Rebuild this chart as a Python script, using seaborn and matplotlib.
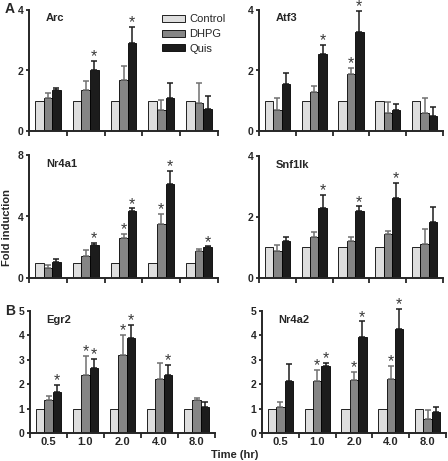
import numpy as np
import pandas as pd
import matplotlib
matplotlib.use('Agg')
import matplotlib.pyplot as plt
import seaborn as sns

# =========================================================================
# DATI
# =========================================================================
times = ['0.5', '1.0', '2.0', '4.0', '8.0']
treatments = ['Control', 'DHPG', 'Quis']
colors = ['#dedede', '#858585', '#1c1c1c']
err_colors = ['#555555', '#707070', '#1c1c1c']

control = [1.0, 1.0, 1.0, 1.0, 1.0]

arc_dhpg = [1.09, 1.36, 1.67, 0.68, 0.92]
arc_dhpg_err = [0.16, 0.29, 0.47, 0.33, 0.66]
arc_quis = [1.34, 2.01, 2.91, 1.10, 0.74]
arc_quis_err = [0.07, 0.31, 0.54, 0.50, 0.42]
arc_star_dhpg = [0, 0, 0, 0, 0]
arc_star_quis = [0, 1, 1, 0, 0]

atf3_dhpg = [0.71, 1.30, 1.87, 0.60, 0.60]
atf3_dhpg_err = [0.38, 0.18, 0.22, 0.36, 0.48]
atf3_quis = [1.54, 2.55, 3.28, 0.71, 0.49]
atf3_quis_err = [0.37, 0.30, 0.69, 0.19, 0.31]
atf3_star_dhpg = [0, 0, 1, 0, 0]
atf3_star_quis = [0, 1, 1, 0, 0]

nr4a1_dhpg = [0.63, 1.46, 2.63, 3.50, 1.74]
nr4a1_dhpg_err = [0.22, 0.34, 0.24, 0.67, 0.17]
nr4a1_quis = [1.04, 2.15, 4.39, 6.09, 2.02]
nr4a1_quis_err = [0.22, 0.15, 0.15, 0.87, 0.05]
nr4a1_star_dhpg = [0, 0, 1, 1, 0]
nr4a1_star_quis = [0, 1, 1, 1, 1]

snf1lk_dhpg = [0.89, 1.34, 1.21, 1.45, 1.12]
snf1lk_dhpg_err = [0.20, 0.18, 0.13, 0.08, 0.48]
snf1lk_quis = [1.21, 2.28, 2.21, 2.62, 1.85]
snf1lk_quis_err = [0.13, 0.44, 0.14, 0.51, 0.47]
snf1lk_star_dhpg = [0, 0, 0, 0, 0]
snf1lk_star_quis = [0, 1, 1, 1, 0]

egr2_dhpg = [1.37, 2.39, 3.20, 2.23, 1.35]
egr2_dhpg_err = [0.15, 0.78, 0.83, 0.64, 0.07]
egr2_quis = [1.69, 2.66, 3.88, 2.36, 1.08]
egr2_quis_err = [0.29, 0.39, 0.55, 0.44, 0.18]
egr2_star_dhpg = [0, 1, 1, 0, 0]
egr2_star_quis = [1, 1, 1, 1, 0]

nr4a2_dhpg = [1.08, 2.13, 2.17, 2.20, 0.59]
nr4a2_dhpg_err = [0.20, 0.47, 0.34, 0.56, 0.37]
nr4a2_quis = [2.13, 2.76, 3.95, 4.28, 0.86]
nr4a2_quis_err = [0.71, 0.11, 0.63, 0.80, 0.19]
nr4a2_star_dhpg = [0, 1, 1, 1, 0]
nr4a2_star_quis = [0, 1, 1, 1, 0]

pannelli = [
    ('Arc', arc_dhpg, arc_dhpg_err, arc_quis, arc_quis_err, arc_star_dhpg, arc_star_quis, [0, 2, 4]),
    ('Atf3', atf3_dhpg, atf3_dhpg_err, atf3_quis, atf3_quis_err, atf3_star_dhpg, atf3_star_quis, [0, 2, 4]),
    ('Nr4a1', nr4a1_dhpg, nr4a1_dhpg_err, nr4a1_quis, nr4a1_quis_err, nr4a1_star_dhpg, nr4a1_star_quis, [0, 4, 8]),
    ('Snf1lk', snf1lk_dhpg, snf1lk_dhpg_err, snf1lk_quis, snf1lk_quis_err, snf1lk_star_dhpg, snf1lk_star_quis, [0, 2, 4]),
    ('Egr2', egr2_dhpg, egr2_dhpg_err, egr2_quis, egr2_quis_err, egr2_star_dhpg, egr2_star_quis, [0, 1, 2, 3, 4, 5]),
    ('Nr4a2', nr4a2_dhpg, nr4a2_dhpg_err, nr4a2_quis, nr4a2_quis_err, nr4a2_star_dhpg, nr4a2_star_quis, [0, 1, 2, 3, 4, 5]),
]

# posizioni degli assi in pixel: (sinistra, destra, alto, basso)
posizioni = [
    (29, 218, 10, 131), (259, 443, 10, 131),
    (29, 218, 155, 278), (259, 443, 156, 278),
    (30, 215, 311, 433), (262, 446, 311, 433),
]

sns.set_style('ticks')
plt.rcParams['font.family'] = ['Liberation Sans', 'DejaVu Sans']

W, H = 448, 461
fig = plt.figure(figsize=(W / 100, H / 100), dpi=100)

for i, (nome, dhpg, dhpg_err, quis, quis_err, st_d, st_q, yticks) in enumerate(pannelli):
    l, r, t, b = posizioni[i]
    ax = fig.add_axes([l / W, 1 - b / H, (r - l) / W, (b - t) / H])

    df = pd.DataFrame({
        'time': times * 3,
        'treatment': ['Control'] * 5 + ['DHPG'] * 5 + ['Quis'] * 5,
        'value': control + dhpg + quis,
    })
    sns.barplot(data=df, x='time', y='value', hue='treatment', order=times,
                hue_order=treatments, palette=colors, edgecolor='black',
                linewidth=0.6, width=0.68, errorbar=None, ax=ax, legend=(i == 0))

    errori = [None, dhpg_err, quis_err]
    stelle = [None, st_d, st_q]
    barre = list(ax.containers)[:3]
    for k, cont in enumerate(barre):
        if errori[k] is None:
            continue
        for j, bar in enumerate(cont):
            x = bar.get_x() + bar.get_width() / 2
            h = bar.get_height()
            e = errori[k][j]
            ax.errorbar(x, h, yerr=[[0], [e]], fmt='none', ecolor=err_colors[k],
                        elinewidth=1.1, capsize=2.2, capthick=1.1, clip_on=False, zorder=1)
            if stelle[k][j]:
                ax.annotate('*', (x, h + e), xytext=(0, -2.5), textcoords='offset points',
                            ha='center', va='bottom', fontsize=11.5, color='#3a3a3a',
                            annotation_clip=False)

    ax.set_ylim(0, yticks[-1])
    ax.set_yticks(yticks)
    ax.set_yticklabels([str(v) for v in yticks], fontweight='bold', fontsize=7.5)
    ax.set_xlim(-0.5, 4.5)
    ax.set_xticks(np.arange(-0.5, 5, 1), minor=True)
    ax.set_xticks(range(5))
    if i >= 4:
        ax.set_xticklabels(times, fontweight='bold', fontsize=8)
    else:
        ax.set_xticklabels([])
    ax.tick_params(axis='x', which='major', length=0, pad=3)
    ax.tick_params(axis='x', which='minor', length=3.5, width=1.3, direction='out')
    ax.tick_params(axis='y', length=2.5, width=1.3, pad=1.5)
    ax.set_xlabel('')
    ax.set_ylabel('')
    sns.despine(ax=ax)
    for s in ['left', 'bottom']:
        ax.spines[s].set_linewidth(1.4)

    ax.text(0.09, 0.93, nome, transform=ax.transAxes, fontsize=8,
            fontweight='bold', va='center', ha='left')

    if i == 0:
        ax.legend(loc='upper left', bbox_to_anchor=((158 - l) / (r - l), 1.0),
                  frameon=False, fontsize=8, handlelength=2.0, handleheight=0.6,
                  labelspacing=0.42, handletextpad=0.4, borderaxespad=0)

fig.text(5 / W, 1 - 9 / H, 'A', fontsize=10, fontweight='bold', va='center', ha='left')
fig.text(5 / W, 1 - 311 / H, 'B', fontsize=10, fontweight='bold', va='center', ha='left')
fig.text(7 / W, 1 - 227 / H, 'Fold induction', fontsize=8, fontweight='bold',
         rotation=90, va='center', ha='center')
fig.text(235 / W, 1 - 455 / H, 'Time (hr)', fontsize=8, fontweight='bold',
         va='center', ha='center')

fig.savefig('out.png', dpi=100)
